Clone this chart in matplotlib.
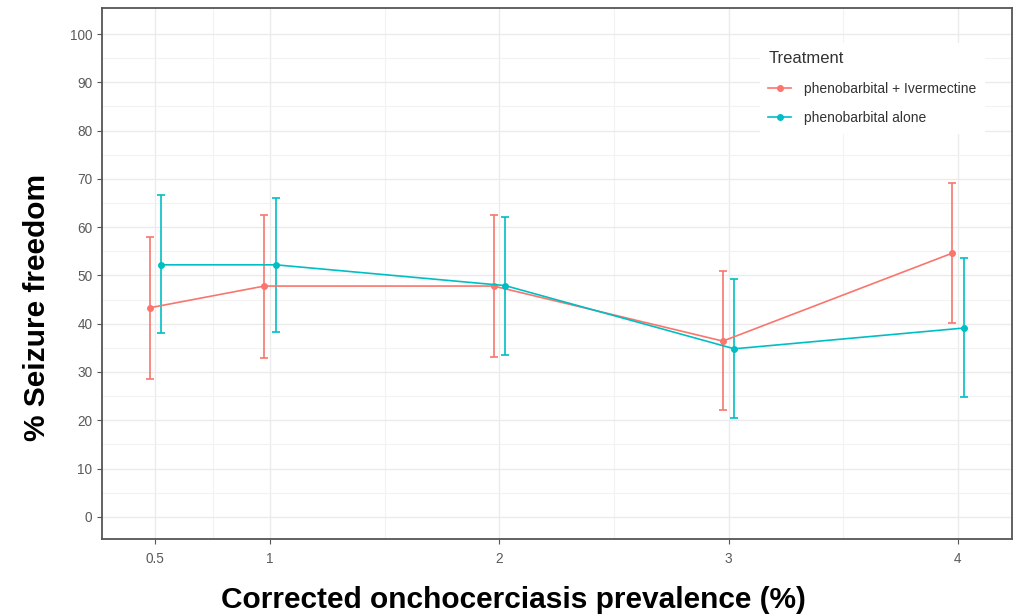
import matplotlib.pyplot as plt
from matplotlib.lines import Line2D
import numpy as np

plt.rcParams['font.family'] = ['Liberation Sans', 'DejaVu Sans']

# data
prevalence = [0.5, 1, 2, 3, 4]
ticks_x = ["0.5", "1", "2", "3", "4"]

ivm_mean = [43.3, 47.8, 47.8, 36.4, 54.6]
ivm_upper = [58.0, 62.5, 62.5, 50.9, 69.1]
ivm_lower = [28.6, 32.9, 33.1, 22.1, 40.2]

alone_mean = [52.2, 52.2, 47.9, 34.8, 39.1]
alone_upper = [66.6, 66.0, 62.2, 49.2, 53.6]
alone_lower = [38.1, 38.3, 33.5, 20.5, 24.8]

labels = ["phenobarbital + Ivermectine", "phenobarbital alone"]
colors = ["#F8766D", "#00BFC4"]
dodge = 0.025


def main():
    fig = plt.figure(figsize=(10.16, 6.14), dpi=100)
    ax = fig.add_axes([0.1004, 0.1221, 0.8956, 0.8649])

    series = [
        (ivm_mean, ivm_lower, ivm_upper),
        (alone_mean, alone_lower, alone_upper),
    ]
    offsets = [-dodge, dodge]
    for (mean, low, up), off, col in zip(series, offsets, colors):
        x = np.array(prevalence) + off
        mean = np.array(mean)
        err = [mean - np.array(low), np.array(up) - mean]
        ax.errorbar(x, mean, yerr=err, color=col, lw=1.2, elinewidth=1.2,
                    capsize=3.2, capthick=1.2, marker="o", markersize=4,
                    zorder=3)

    ax.set_xlim(0.267, 4.236)
    ax.set_ylim(-4.6, 105.4)
    ax.set_xticks(prevalence)
    ax.set_xticklabels(ticks_x)
    ax.set_yticks(np.arange(0, 101, 10))
    ax.set_xticks([0.75, 1.5, 2.5, 3.5], minor=True)
    ax.set_yticks(np.arange(5, 101, 10), minor=True)

    ax.grid(which="major", color="#EBEBEB", lw=1.0, zorder=0)
    ax.grid(which="minor", color="#F2F2F2", lw=0.8, zorder=0)
    ax.set_axisbelow(True)
    ax.tick_params(which="major", length=3.5, color="#555555", labelcolor="#5A5A5A",
                   labelsize=9.8, width=0.8)
    ax.tick_params(axis="x", which="major", pad=6)
    ax.tick_params(which="minor", length=0)
    for s in ax.spines.values():
        s.set_color("#555555")
        s.set_linewidth(1.3)

    ax.set_xlabel("Corrected onchocerciasis prevalence (%)", fontsize=21.5,
                  fontweight="bold")
    ax.xaxis.set_label_coords(0.452, -0.0885)
    ax.set_ylabel("% Seizure freedom", fontsize=21.5, fontweight="bold")
    ax.yaxis.set_label_coords(-0.056, 0.437)

    handles = [Line2D([0], [0], color=c, lw=1.2, marker="o", markersize=4) for c in colors]
    leg = ax.legend(handles, labels, loc="upper left", bbox_to_anchor=(0.723, 0.934),
                    title="Treatment", frameon=True, fontsize=10, title_fontsize=12,
                    handlelength=1.65, handletextpad=0.9, labelspacing=1.1,
                    borderpad=0.6, borderaxespad=0, alignment="left")
    leg.get_frame().set_facecolor("white")
    leg.get_frame().set_edgecolor("white")
    leg.get_frame().set_alpha(1)
    leg.get_frame().set_boxstyle("square", pad=0)
    for t in leg.get_texts():
        t.set_color("#333333")
    leg.get_title().set_color("#333333")

    fig.savefig("out.png", dpi=100)


if __name__ == "__main__":
    main()
